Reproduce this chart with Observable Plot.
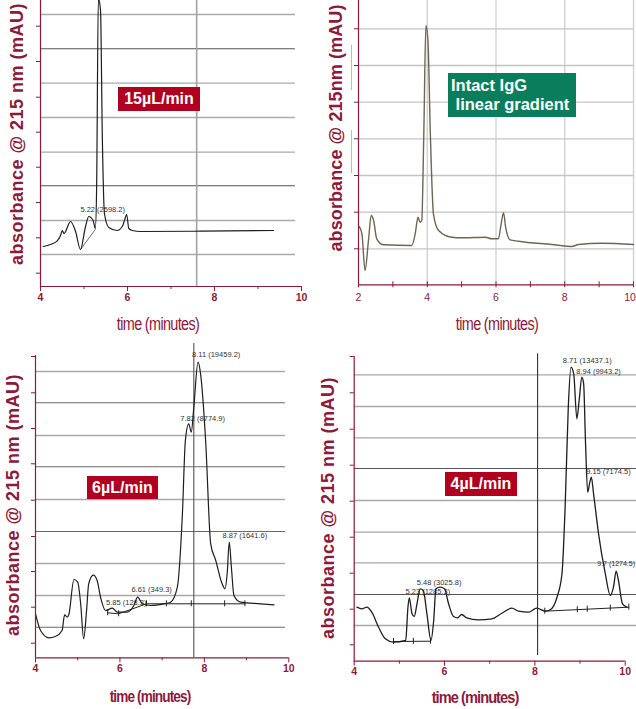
<!DOCTYPE html>
<html><head><meta charset="utf-8">
<script src="https://cdn.jsdelivr.net/npm/d3@7"></script>
<script src="https://cdn.jsdelivr.net/npm/@observablehq/plot@0.6"></script>
<style>
html,body{margin:0;padding:0;background:#fff;overflow:hidden}
#wrap{position:relative;width:636px;height:709px;overflow:hidden;font-family:"Liberation Sans",Arial,sans-serif}
.pn{position:absolute}
.ylab{position:absolute;transform:translate(-50%,-50%) rotate(-90deg);white-space:nowrap;font-weight:bold;font-size:18px;letter-spacing:0.5px;color:#8b1a3b}
.xlab{position:absolute;white-space:nowrap;font-size:18px;letter-spacing:-0.8px;color:#8b1a3b}
.box{position:absolute;color:#fff;font-weight:bold;font-size:16px;display:flex;align-items:center;justify-content:center;white-space:nowrap}
</style></head>
<body>
<div id="wrap"></div>
<script>
// ---------- Panel 1 : 15 µL/min ----------
const p1Time = [4.06,4.23,4.38,4.46,4.50,4.54,4.69,4.80,4.92,5.03,5.11,5.21,5.26,5.29,5.33,5.38,5.42,5.47,5.57,5.76,5.88,5.93,5.98,6.03,6.11,6.30,7.68,9.36];
const p1Abs  = [40,42,45.3,51,56,53,65,56,37,59,70,66,58,98,288,276,153,73,59,56,60,66,72,58,56,55,55.3,56];
const p1DropTime = [4.92, 5.26];
const p1DropAbs = [37, 57];
const p1Notes = ["5.22 (2598.2)"];
const p1NoteTime = [5.43];
const p1NoteAbs = [77];
const p1GridLight = [272, 203.3, 169, 134.3, 66, 32];
const p1GridDark = [237.7, 100.7];
const p1YTicks = [260.3, 225, 189.3, 154.3, 119.3, 84, 48.7, 13.3];
const p1Marker = [7.59];
const p1XLabels = [4, 6, 8, 10];
const p1XMinor = [5, 7, 9];

// ---------- Panel 2 : Intact IgG linear gradient ----------
const p2Time = [2.02,2.10,2.19,2.29,2.37,2.44,2.53,2.73,3.55,3.65,3.73,3.79,3.84,3.90,3.96,4.02,4.09,4.18,4.33,4.71,5.01,5.69,5.88,6.07,6.15,6.22,6.28,6.41,6.65,7.62,8.20,8.40,9.08,10.0];
const p2Abs  = [58.3,51,14.3,44.3,69.3,64.3,46,40,39.3,51,67.6,62.6,64.3,151,259.3,244.3,151,71,54.3,47.6,47,47.6,46,46,61,72,57.6,45,43.6,40.3,38.3,40.3,41.6,40.3];
const p2Grid = [256, 219.3, 182.6, 146, 109.3, 72.6, 36];
const p2VGrid = [4, 6, 8, 10];
const p2XLabels = [2, 4, 6, 8, 10];
const p2XTicks = [2, 3, 4, 5, 6, 7, 8, 9, 10];
const p2Pink = [[239.3, 194.3], [154.3, 111.3]];

// ---------- Panel 3 : 6 µL/min ----------
const p3Time = [4.00,4.12,4.32,4.47,4.63,4.69,4.75,4.79,4.91,5.00,5.07,5.14,5.21,5.26,5.37,5.46,5.54,5.66,5.82,5.94,6.17,6.33,6.42,6.53,6.73,7.04,7.20,7.36,7.48,7.55,7.63,7.69,7.75,7.85,7.91,8.03,8.15,8.27,8.42,8.49,8.54,8.59,8.64,8.70,8.86,9.33,9.65];
const p3Abs  = [44,27.3,20,21.3,27.3,43,40.6,43.3,78.3,75.6,54,19,47.3,74,82.6,77.3,60.6,47.3,49.6,45.6,45.6,52.3,60.6,54,52.3,54,55.6,70.6,144,217.3,234,225.6,250.6,295.6,284,217.3,114,97.3,74,69,84,115.6,90.6,62.3,55.6,54,53];
const p3BaseTime = [5.71, 5.97, 6.63, 8.96];
const p3BaseAbs = [45, 44, 54, 54];
const p3BaseTickTime = [5.71, 5.97, 6.63, 7.10, 7.69, 8.48, 8.96];
const p3BaseTickAbs = [45, 44, 54, 54, 54, 54, 54];
const p3Notes = ["8.11 (19459.2)", "7.82 (8774.9)", "8.87 (1641.6)", "6.61 (349.3)", "5.85 (128.3)"];
const p3NoteTime = [8.28, 7.96, 8.96, 6.75, 6.15];
const p3NoteAbs = [303, 239.6, 122, 68, 55.6];
const p3GridLight = [286.3, 222.3, 158.3, 94.3, 62.3];
const p3GridDark = [255, 191, 126.3, 30.6];
const p3YTicks = [301.3, 265, 229.3, 194, 157.6, 121.3, 86.3, 50.6, 14.6];
const p3Marker = [7.75];
const p3XLabels = [4, 6, 8, 10];
const p3XMinor = [5, 7, 9];

// ---------- Panel 4 : 4 µL/min ----------
const p4Time = [4.06,4.17,4.28,4.39,4.54,4.69,4.87,5.14,5.19,5.22,5.28,5.33,5.39,5.46,5.53,5.61,5.70,5.76,5.81,5.90,6.00,6.09,6.20,6.29,6.38,6.49,6.75,7.05,7.27,7.49,7.64,7.86,8.04,8.23,8.34,8.49,8.60,8.67,8.74,8.80,8.86,8.93,8.98,9.04,9.08,9.12,9.17,9.21,9.25,9.30,9.41,9.56,9.67,9.74,9.80,9.85,9.94,10.04];
const p4Abs  = [54,52.4,54,49,34,22.4,19,20.7,54,63.4,47.4,44.7,57.4,72.4,70.7,47.4,20.7,40.7,72.4,74,72.4,57.4,44.7,43.4,46.7,43.4,41.4,42.4,48,53,50,49,53,50,51.4,64,87.4,154,254,294,287.4,242.4,260.7,284,277.4,220.7,169,177.4,184,167.4,127.4,87.4,65.7,74,90,80.7,57.4,54];
const p4Base1Time = [4.87, 5.69];
const p4Base1Abs = [19.7, 20];
const p4Base2Time = [8.22, 10.08];
const p4Base2Abs = [50, 54];
const p4BaseTickTime = [4.87, 5.31, 5.69, 8.22, 8.94, 9.16, 9.67, 10.08];
const p4BaseTickAbs = [19.7, 19.8, 20, 50, 51.5, 52, 53.1, 54];
const p4Notes = ["8.71 (13437.1)", "8.94 (9943.2)", "9.15 (7174.5)", "5.48 (3025.8)", "5.23 (1285.3)"];
const p4NoteTime = [9.16, 9.41, 9.63, 5.88, 5.63];
const p4NoteAbs = [300.7, 289.7, 190, 79, 69.7];
const p4EdgeNote = ["9.7 (1274.5)"];
const p4EdgeNoteTime = [10.25];
const p4EdgeNoteAbs = [97];
const p4GridLight = [286.4, 254.7, 223.4, 160.7, 129, 98.4, 35.7];
const p4GridDark = [192.7, 66.7];
const p4YTicks = [304.7, 268.4, 232, 196, 160, 124, 88, 52, 16.4];
const p4Marker = [8.06];
const p4XLabels = [4, 6, 8, 10];
const p4XMinor = [5, 7, 9];

// ---------- helpers ----------
const MAROON = "#8b1a3b";
const FONT = "Liberation Sans, Arial, sans-serif";
const zip = (ts, vs) => ts.map((t, i) => ({t, v: vs[i]}));
const notes = (labels, ts, vs) => labels.map((s, i) => ({s, t: ts[i], v: vs[i]}));
const wrap = document.getElementById("wrap");

function place(el, left, top) {
  const d = document.createElement("div");
  d.className = "pn";
  d.style.left = left + "px";
  d.style.top = top + "px";
  d.appendChild(el);
  wrap.appendChild(d);
}
function html(cls, text, css) {
  const d = document.createElement("div");
  d.className = cls;
  d.innerHTML = text;
  Object.assign(d.style, css);
  wrap.appendChild(d);
  return d;
}
const yTicksAxis = (vals) => Plot.axisY(vals, {tickSize: 4, tickFormat: () => "", stroke: MAROON, label: null});
const xTicksAxis = (vals, size, extra = {}) => Plot.axisX(vals, {tickSize: size, tickFormat: () => "", stroke: MAROON, label: null, ...extra});

function panelPlot(cfg) {
  return Plot.plot({
    width: cfg.width, height: cfg.height,
    marginLeft: cfg.ml, marginRight: cfg.mr, marginTop: 0, marginBottom: cfg.mb,
    x: {domain: cfg.xDomain, axis: null, label: null},
    y: {domain: [0, cfg.yTop], axis: null, label: null},
    style: {fontFamily: FONT, background: "transparent", overflow: "hidden", color: MAROON},
    marks: cfg.marks
  });
}

// ---------- Panel 1 ----------
{
  const yTop = 286;
  const marks = [
    Plot.ruleY(p1GridLight, {x1: 4, x2: 9.86, stroke: "#aaaaaa", strokeWidth: 1.3}),
    Plot.ruleY(p1GridDark, {x1: 4, x2: 9.86, stroke: "#555555", strokeWidth: 1.1}),
    Plot.ruleX(p1Marker, {stroke: "#a3a3a3", strokeWidth: 1.6}),
    Plot.text(notes(p1Notes, p1NoteTime, p1NoteAbs), {x: "t", y: "v", text: "s", fontSize: 7.5, fill: "#333", fontFamily: "Liberation Sans"}),
    Plot.line(zip(p1DropTime, p1DropAbs), {x: "t", y: "v", stroke: "#444", strokeWidth: 0.8}),
    Plot.line(zip(p1Time, p1Abs), {x: "t", y: "v", curve: "monotone-x", stroke: "#1e1e1e", strokeWidth: 1.2}),
    Plot.ruleX([4], {stroke: MAROON, strokeWidth: 1.2}),
    Plot.ruleY([0], {stroke: MAROON, strokeWidth: 1.2}),
    yTicksAxis(p1YTicks),
    xTicksAxis(p1XLabels, 5),
    xTicksAxis(p1XMinor, 3),
    Plot.text(p1XLabels, {x: d => d, frameAnchor: "bottom", dy: 14.7, text: d => String(d), fontSize: 10.5, fontWeight: "bold", fill: MAROON})
  ];
  place(panelPlot({width: 318, height: 340, ml: 40, mr: 17, mb: 340 - yTop, xDomain: [4, 10], yTop, marks}), 0, 0);
  html("ylab", "absorbance @ 215 nm (mAU)", {left: "17px", top: "134px"});
  html("xlab", "time (minutes)", {left: "158px", top: "324px", transform: "translate(-50%,-50%) scaleX(0.8)"});
  html("box", "15µL/min", {left: "118px", top: "87px", width: "82px", height: "24px", background: "#b1001f"});
}

// ---------- Panel 2 ----------
{
  const yTop = 284.3;
  const marks = [
    Plot.ruleX(p2VGrid, {stroke: "#cfcfcf", strokeWidth: 1.3}),
    Plot.ruleY(p2Grid, {x1: 2, x2: 10, stroke: "#c4c4c4", strokeWidth: 1.3}),
    Plot.ruleX(p2Pink, {x: () => 2, y1: d => d[0], y2: d => d[1], dx: -7, stroke: "#f2a5a5", strokeWidth: 1}),
    Plot.line(zip(p2Time, p2Abs), {x: "t", y: "v", curve: "monotone-x", stroke: "#6b6754", strokeWidth: 1.4}),
    Plot.ruleX([2], {stroke: MAROON, strokeWidth: 1.2}),
    Plot.ruleY([0], {stroke: MAROON, strokeWidth: 1.2}),
    yTicksAxis(p2Grid),
    xTicksAxis(p2XTicks, 6, {dy: -3}),
    Plot.text(p2XLabels.filter(d => d < 10), {x: d => d, frameAnchor: "bottom", dy: 15.7, text: d => String(d), fontSize: 10.5, fill: MAROON}),
    Plot.text(p2XLabels.filter(d => d === 10), {x: d => d, frameAnchor: "bottom", dy: 15.7, dx: -3.5, text: d => String(d), fontSize: 10.5, fill: MAROON})
  ];
  place(panelPlot({width: 318, height: 340, ml: 40, mr: 3, mb: 340 - yTop, xDomain: [2, 10], yTop, marks}), 318, 0);
  html("ylab", "absorbance @ 215nm (mAU)", {left: "336px", top: "128px", letterSpacing: "0.1px"});
  html("xlab", "time (minutes)", {left: "497px", top: "324px", transform: "translate(-50%,-50%) scaleX(0.8)"});
  html("box", "<div style='line-height:19.5px'>Intact IgG<br>&nbsp;linear gradient</div>", {left: "448px", top: "73px", width: "128px", height: "44px", background: "#0a7d5c", fontSize: "16.5px", justifyContent: "flex-start", paddingLeft: "3px", boxSizing: "border-box"});
}

// ---------- Panel 3 ----------
{
  const yTop = 317.3;
  const marks = [
    Plot.ruleY(p3GridLight, {x1: 4, x2: 9.92, stroke: "#a8a8a8", strokeWidth: 1.3}),
    Plot.ruleY(p3GridDark, {x1: 4, x2: 9.92, stroke: "#6a6a6a", strokeWidth: 1.1}),
    Plot.ruleX(p3Marker, {y1: 0, y2: 314.3, stroke: "#555", strokeWidth: 1.1}),
    Plot.text(notes(p3Notes, p3NoteTime, p3NoteAbs), {x: "t", y: "v", text: "s", fontSize: 7.5, fill: "#333", fontFamily: "Liberation Sans"}),
    Plot.line(zip(p3BaseTime, p3BaseAbs), {x: "t", y: "v", stroke: "#222", strokeWidth: 1}),
    Plot.ruleX(zip(p3BaseTickTime, p3BaseTickAbs), {x: "t", y1: d => d.v - 3, y2: d => d.v + 3, stroke: "#222", strokeWidth: 1}),
    Plot.line(zip(p3Time, p3Abs), {x: "t", y: "v", curve: "monotone-x", stroke: "#1e1e1e", strokeWidth: 1.2}),
    Plot.ruleX([4], {y1: 0, y2: 302.3, stroke: MAROON, strokeWidth: 1.2}),
    Plot.ruleY([0], {stroke: MAROON, strokeWidth: 1.2}),
    yTicksAxis(p3YTicks),
    xTicksAxis(p3XLabels, 5),
    xTicksAxis(p3XMinor, 3),
    Plot.text(p3XLabels, {x: d => d, frameAnchor: "bottom", dy: 14.4, text: d => String(d), fontSize: 10.5, fontWeight: "bold", fill: MAROON})
  ];
  place(panelPlot({width: 318, height: 369, ml: 35, mr: 29.7, mb: 369 - yTop, xDomain: [4, 10], yTop, marks}), 0, 340);
  html("ylab", "absorbance @ 215 nm (mAU)", {left: "13px", top: "505px"});
  html("xlab", "time (minutes)", {left: "150px", top: "697px", fontWeight: "bold", fontSize: "17px", letterSpacing: "-1.1px", transform: "translate(-50%,-50%) scaleX(0.8)"});
  html("box", "6µL/min", {left: "87px", top: "476px", width: "71px", height: "23px", background: "#b1001f"});
}

// ---------- Panel 4 ----------
{
  const yTop = 320.7;
  const marks = [
    Plot.ruleY(p4GridLight, {x1: 4, x2: 10.3, stroke: "#a8a8a8", strokeWidth: 1.3}),
    Plot.ruleY(p4GridDark, {x1: 4, x2: 10.3, stroke: "#555555", strokeWidth: 1.1}),
    Plot.ruleX(p4Marker, {y1: 5.7, y2: 307.4, stroke: "#333", strokeWidth: 1.1}),
    Plot.text(notes(p4Notes, p4NoteTime, p4NoteAbs), {x: "t", y: "v", text: "s", fontSize: 7.5, fill: "#333", fontFamily: "Liberation Sans"}),
    Plot.text(notes(p4EdgeNote, p4EdgeNoteTime, p4EdgeNoteAbs), {x: "t", y: "v", text: "s", textAnchor: "end", dx: -1.5, fontSize: 7, fill: "#333", fontFamily: "Liberation Sans"}),
    Plot.line(zip(p4Base1Time, p4Base1Abs), {x: "t", y: "v", stroke: "#222", strokeWidth: 1}),
    Plot.line(zip(p4Base2Time, p4Base2Abs), {x: "t", y: "v", stroke: "#222", strokeWidth: 1}),
    Plot.ruleX(zip(p4BaseTickTime, p4BaseTickAbs), {x: "t", y1: d => d.v - 3, y2: d => d.v + 3, stroke: "#222", strokeWidth: 1}),
    Plot.line(zip(p4Time, p4Abs), {x: "t", y: "v", curve: "monotone-x", stroke: "#1e1e1e", strokeWidth: 1.3}),
    Plot.ruleX([4], {y1: 0, y2: 304.7, stroke: MAROON, strokeWidth: 1.2}),
    Plot.ruleY([0], {stroke: MAROON, strokeWidth: 1.2}),
    yTicksAxis(p4YTicks),
    xTicksAxis(p4XLabels, 5),
    xTicksAxis(p4XMinor, 3),
    Plot.text(p4XLabels, {x: d => d, frameAnchor: "bottom", dy: 13.6, text: d => String(d), fontSize: 10.5, fontWeight: "bold", fill: MAROON})
  ];
  place(panelPlot({width: 318, height: 369, ml: 35.7, mr: 11.3, mb: 369 - yTop, xDomain: [4, 10], yTop, marks}), 318, 340);
  html("ylab", "absorbance @ 215 nm (mAU)", {left: "328px", top: "508px"});
  html("xlab", "time (minutes)", {left: "475px", top: "698px", fontWeight: "bold", fontSize: "17px", letterSpacing: "-1.1px", transform: "translate(-50%,-50%) scaleX(0.86)"});
  html("box", "4µL/min", {left: "445px", top: "472px", width: "72px", height: "24px", background: "#b1001f"});
}
</script>
</body></html>
